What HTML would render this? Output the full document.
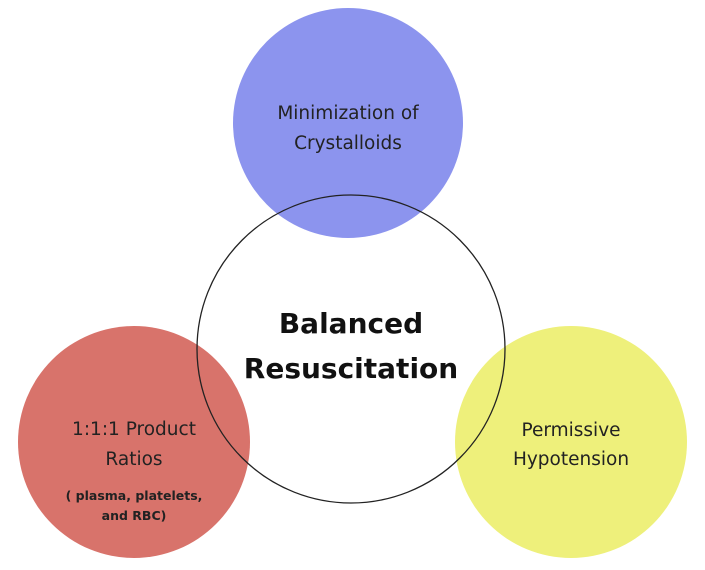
<!DOCTYPE html>
<html><head><meta charset="utf-8"><style>
html,body{margin:0;padding:0;background:#fff;width:705px;height:570px;overflow:hidden}
</style></head><body>
<svg width="705" height="570" xmlns="http://www.w3.org/2000/svg" font-family="'DejaVu Sans','Liberation Sans',sans-serif">
<circle cx="348" cy="123" r="115" fill="#8c94ee"/>
<circle cx="134" cy="442" r="116" fill="#d8736b"/>
<circle cx="571" cy="442" r="116" fill="#eef07b"/>
<circle cx="351" cy="349" r="154" fill="none" stroke="#222" stroke-width="1.3"/>
<g text-anchor="middle" fill="#222">
<text x="348" y="119" font-size="18.5">Minimization of</text>
<text x="348" y="149" font-size="18.5">Crystalloids</text>
<text x="351" y="333" font-size="28" font-weight="bold" fill="#111">Balanced</text>
<text x="351" y="378" font-size="28" font-weight="bold" fill="#111">Resuscitation</text>
<text x="134" y="435" font-size="18.5">1:1:1 Product</text>
<text x="134" y="465" font-size="18.5">Ratios</text>
<text x="134" y="500" font-size="12.5" font-weight="bold">( plasma, platelets,</text>
<text x="134" y="520" font-size="12.5" font-weight="bold">and RBC)</text>
<text x="571" y="436" font-size="18.5">Permissive</text>
<text x="571" y="465" font-size="18.5">Hypotension</text>
</g>
</svg>
</body></html>
